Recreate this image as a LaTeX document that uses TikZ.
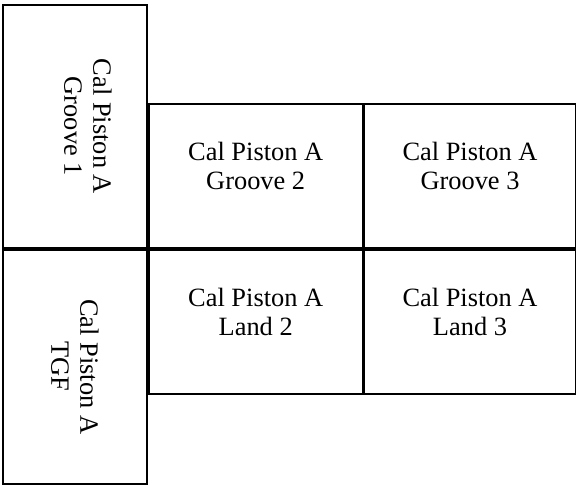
\documentclass[tikz,border=0pt]{standalone}
\usepackage{fontspec}
\setmainfont{Liberation Serif}
\usetikzlibrary{positioning}
\tikzset{
    cell/.style={draw=black, line width=0.9pt, rectangle, inner sep=0pt, minimum width=107pt, minimum height=72pt},
    sidecell/.style={cell, minimum width=72pt},
    endcell/.style={cell, minimum width=105.5pt},
    celltext/.style={align=center, font=\fontsize{13.2}{14.5}\selectfont, inner sep=0pt},
}

\begin{document}
\begin{tikzpicture}
    \useasboundingbox (0,0) rectangle (289pt,-242.5pt);
    % left column
    \node[sidecell, minimum height=121.5pt, anchor=north west] (groove1) at (1pt,-2pt) {};
    \node[sidecell, minimum height=117pt, below=0pt of groove1] (tgf) {};
    % right grid
    \node[cell, anchor=south west] (groove2) at (groove1.south east) {};
    \node[endcell, anchor=west] (groove3) at (groove2.east) {};
    \node[cell, below=0pt of groove2] (land2) {};
    \node[endcell, anchor=west] (land3) at (land2.east) {};

    \node[celltext, rotate=-90] at ([xshift=6.5pt]groove1.center) {Cal Piston A\\Groove 1};
    \node[celltext, rotate=-90] at (tgf.center) {Cal Piston A\\TGF};
    \node[celltext] at ([yshift=5pt]groove2.center) {Cal Piston A\\Groove 2};
    \node[celltext] at ([yshift=5pt]groove3.center) {Cal Piston A\\Groove 3};
    \node[celltext] at ([yshift=5pt]land2.center) {Cal Piston A\\Land 2};
    \node[celltext] at ([yshift=5pt]land3.center) {Cal Piston A\\Land 3};
\end{tikzpicture}
\end{document}
